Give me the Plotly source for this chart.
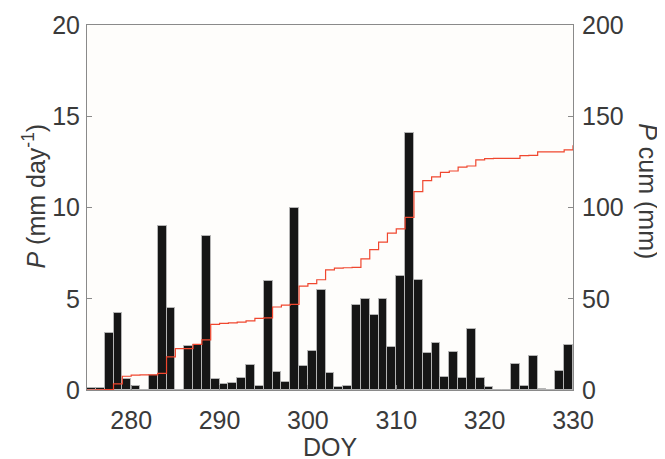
import numpy as np
import plotly.graph_objects as go

# Day of year (bar for day d spans d..d+1)
doy = list(range(275, 330))
# Daily precipitation (mm day-1)
precip = [0.09, 0.12, 3.12, 4.20, 0.58, 0.22, 0.00, 0.82, 8.98, 4.50,
          0.00, 2.40, 2.45, 8.44, 0.58, 0.33, 0.40, 0.68, 1.39, 0.22,
          5.95, 0.99, 0.46, 10.00, 1.32, 2.16, 5.46, 0.95, 0.18, 0.24,
          4.64, 5.00, 4.13, 4.97, 2.37, 6.25, 14.10, 6.01, 2.03, 2.56,
          0.70, 2.08, 0.68, 3.36, 0.68, 0.18, 0.00, 0.00, 1.42, 0.22,
          1.88, 0.04, 0.00, 1.04, 2.48]

x_ticks = [280, 290, 300, 310, 320, 330]
y_left_ticks = [0, 5, 10, 15, 20]
y_right_ticks = [0, 50, 100, 150, 200]

bar_x = np.array(doy) + 0.5
cum_x = np.concatenate([[doy[0]], np.array(doy) + 1])
cum_y = np.concatenate([[0.0], np.cumsum(precip)])

FONT = "Liberation Sans, Arial, Helvetica, sans-serif"
TXT = "#3a3a3a"
AX = "#8a8a8a"

fig = go.Figure()
fig.add_trace(go.Bar(
    x=bar_x, y=precip, width=1.0,
    marker=dict(color="#161616", line=dict(color="#b4b4b4", width=1)),
    yaxis="y", showlegend=False,
))
fig.add_trace(go.Scatter(
    x=cum_x, y=cum_y, mode="lines", line=dict(color="#f0472f", width=1.2, shape="hv"),
    yaxis="y2", showlegend=False,
))

fig.update_layout(
    width=657, height=451,
    margin=dict(l=79, r=92, t=17, b=69, autoexpand=False),
    paper_bgcolor="white", plot_bgcolor="#fefdfb",
    font=dict(family=FONT, size=25, color=TXT),
    bargap=0,
    xaxis=dict(range=[275, 330], tickvals=x_ticks, ticks="inside", ticklen=5,
               tickcolor=AX, showline=True, linecolor=AX, linewidth=1, mirror=True,
               showgrid=False, zeroline=False, ticklabelstandoff=8, automargin=False,
               tickfont=dict(size=25, color=TXT)),
    yaxis=dict(range=[0, 20], tickvals=y_left_ticks, ticks="inside", ticklen=5,
               tickcolor=AX, showline=True, linecolor=AX, linewidth=1, automargin=False,
               showgrid=False, zeroline=False, ticklabelstandoff=1,
               tickfont=dict(size=25, color=TXT)),
    yaxis2=dict(range=[0, 200], tickvals=y_right_ticks, ticks="inside", ticklen=5,
                tickcolor=AX, showline=True, linecolor=AX, linewidth=1, automargin=False,
                overlaying="y", side="right", showgrid=False, zeroline=False,
                ticklabelstandoff=3, tickfont=dict(size=25, color=TXT)),
    annotations=[
        dict(text="<i>P</i> (mm day<sup>-1</sup>)", xref="paper", yref="paper",
             x=-0.109, y=0.53, textangle=-90, showarrow=False,
             xanchor="center", yanchor="middle", font=dict(size=25, color=TXT)),
        dict(text="<i>P</i> cum (mm)", xref="paper", yref="paper",
             x=1.154, y=0.545, textangle=90, showarrow=False,
             xanchor="center", yanchor="middle", font=dict(size=25, color=TXT)),
        dict(text="DOY", xref="paper", yref="paper",
             x=0.5, y=-0.155, showarrow=False, borderpad=0,
             xanchor="center", yanchor="middle", font=dict(size=25, color=TXT)),
    ],
)

fig.write_html("out.html")
